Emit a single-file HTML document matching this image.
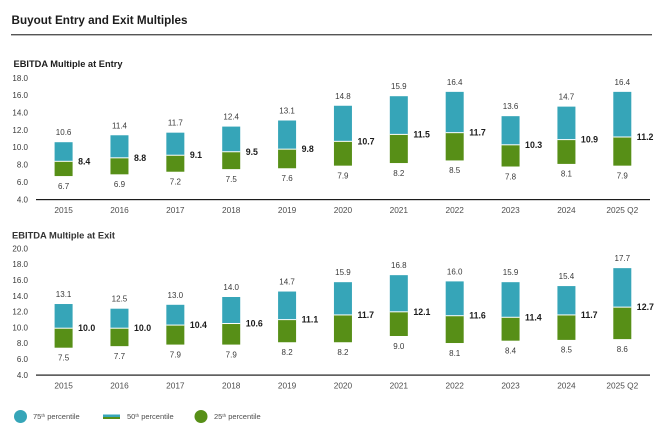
<!DOCTYPE html>
<html lang="en">
<head>
<meta charset="utf-8">
<title>Buyout Entry and Exit Multiples</title>
<style>
html,body{margin:0;padding:0;background:#fff;}
svg{display:block;font-family:"Liberation Sans",sans-serif;}
</style>
</head>
<body>
<svg id="chart" xmlns="http://www.w3.org/2000/svg" width="663" height="432" viewBox="0 0 663 432">
  <rect x="0" y="0" width="663" height="432" fill="#ffffff"/>
  <text x="11.5" y="24" font-size="12" font-weight="bold" fill="#1c1c1c" textLength="176" lengthAdjust="spacingAndGlyphs">Buyout Entry and Exit Multiples</text>
  <rect x="11" y="34" width="641" height="1.4" fill="#555555"/>
  <text x="13.5" y="67" font-size="9" font-weight="bold" fill="#1c1c1c" textLength="109" lengthAdjust="spacingAndGlyphs">EBITDA Multiple at Entry</text>
  <text x="12" y="238.5" font-size="9" font-weight="bold" fill="#333333" textLength="103" lengthAdjust="spacingAndGlyphs">EBITDA Multiple at Exit</text>
  <g id="entry-plot"></g>
  <g id="exit-plot"></g>
  <g>
    <g>
      <circle cx="20.5" cy="416.5" r="6.5" fill="#36a5b8"/>
      <text x="33" y="419" font-size="7.5" fill="#4d4d4d">75<tspan font-size="4.5" dy="-2">th</tspan><tspan dy="2"> percentile</tspan></text>
    </g>
    <g>
      <rect x="103" y="414.5" width="17" height="2.5" fill="#36a5b8"/>
      <rect x="103" y="417" width="17" height="2" fill="#578f17"/>
      <text x="127" y="419" font-size="7.5" fill="#4d4d4d">50<tspan font-size="4.5" dy="-2">th</tspan><tspan dy="2"> percentile</tspan></text>
    </g>
    <g>
      <circle cx="201" cy="416.5" r="6.5" fill="#578f17"/>
      <text x="214" y="419" font-size="7.5" fill="#4d4d4d">25<tspan font-size="4.5" dy="-2">th</tspan><tspan dy="2"> percentile</tspan></text>
    </g>
  </g>
</svg>
<script>
const categories = ['2015','2016','2017','2018','2019','2020','2021','2022','2023','2024','2025 Q2'];
const entryP75 = [10.6,11.4,11.7,12.4,13.1,14.8,15.9,16.4,13.6,14.7,16.4];
const entryP50 = [8.4,8.8,9.1,9.5,9.8,10.7,11.5,11.7,10.3,10.9,11.2];
const entryP25 = [6.7,6.9,7.2,7.5,7.6,7.9,8.2,8.5,7.8,8.1,7.9];
const exitP75 = [13.1,12.5,13.0,14.0,14.7,15.9,16.8,16.0,15.9,15.4,17.7];
const exitP50 = [10.0,10.0,10.4,10.6,11.1,11.7,12.1,11.6,11.4,11.7,12.7];
const exitP25 = [7.5,7.7,7.9,7.9,8.2,8.2,9.0,8.1,8.4,8.5,8.6];
const entryTicks = [4,6,8,10,12,14,16,18];
const exitTicks = [4,6,8,10,12,14,16,18,20];

const NS = 'http://www.w3.org/2000/svg';
const TEAL = '#36a5b8';
const GREEN = '#578f17';

function make(tag, attrs, parent, text) {
  const el = document.createElementNS(NS, tag);
  for (const k in attrs) el.setAttribute(k, attrs[k]);
  if (text !== undefined) el.textContent = text;
  parent.appendChild(el);
  return el;
}

function xCenter(i) {
  return 63.6 + i * 55.87;
}

function drawPlot(parent, key, p75, p50, p25, ticks, cfg) {
  const y = v => cfg.base - (v - 4) * cfg.unit;
  const tickY = v => cfg.base - (v - 4) * cfg.tickUnit;

  ticks.forEach(t => {
    const el = make('text', {x: 28, y: tickY(t) + 2.8, 'font-size': 8, 'text-anchor': 'end', fill: '#3a3a3a'}, parent, t.toFixed(1));
    
    
  });

  categories.forEach((c, i) => {
    const cx = xCenter(i);
    const x = cx - 9;

    const upper = make('rect', {x: x, y: y(p75[i]), width: 18, height: y(p50[i]) - y(p75[i]), fill: TEAL}, parent);
    
    

    const lower = make('rect', {x: x, y: y(p50[i]), width: 18, height: y(p25[i]) - y(p50[i]), fill: GREEN}, parent);
    
    

    const median = make('rect', {x: x, y: y(p50[i]) - 0.5, width: 18, height: 1, fill: '#ffffff'}, parent);
    
    

    const topLabel = make('text', {x: cx, y: y(p75[i]) - 7, 'font-size': 8, 'text-anchor': 'middle', fill: '#3a3a3a'}, parent, p75[i].toFixed(1));
    
    

    const midLabel = make('text', {x: x + 23.5, y: y(p50[i]) + 3, 'font-size': 8.8, 'font-weight': 'bold', fill: '#1c1c1c'}, parent, p50[i].toFixed(1));
    
    

    const lowLabel = make('text', {x: cx, y: y(p25[i]) + 12.8, 'font-size': 8, 'text-anchor': 'middle', fill: '#3a3a3a'}, parent, p25[i].toFixed(1));
    
    

    const xLabel = make('text', {x: cx, y: cfg.base + 13.3, 'font-size': 8.3, 'text-anchor': 'middle', fill: '#4d4d4d'}, parent, c);
    
    
  });

  const axis = make('rect', {x: 36, y: cfg.base - 0.5, width: 614, height: 1.2, fill: '#1c1c1c'}, parent);
  
  
}

drawPlot(document.getElementById('entry-plot'), 'entry', entryP75, entryP50, entryP25, entryTicks, {base: 199.5, unit: 8.68, tickUnit: 8.68});
drawPlot(document.getElementById('exit-plot'), 'exit', exitP75, exitP50, exitP25, exitTicks, {base: 375, unit: 7.8, tickUnit: 7.9});
</script>
</body>
</html>
